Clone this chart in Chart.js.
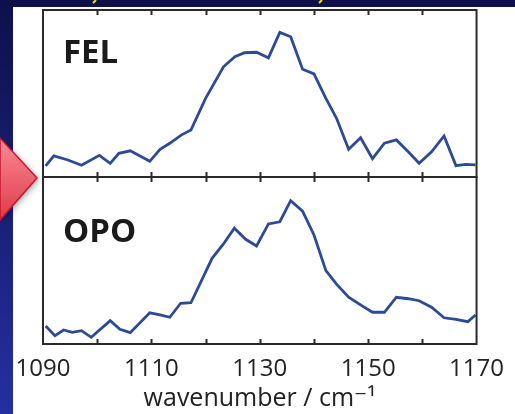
<!DOCTYPE html>
<html>
<head>
<meta charset="utf-8">
<script src="https://cdn.jsdelivr.net/npm/chart.js@4"></script>
<style>
  html, body { margin: 0; padding: 0; background: #0e1250; }
  #wrap { width: 515px; height: 414px; }
</style>
</head>
<body>
<div id="wrap"><canvas id="grafico"></canvas></div>
<script>
const felWn = [1090.5, 1092.0, 1094.6, 1097.1, 1100.4, 1102.4, 1104.0, 1106.1, 1109.7, 1111.6, 1113.4, 1115.5, 1117.3, 1120.0, 1123.3, 1125.4, 1127.2, 1129.4, 1131.6, 1133.7, 1135.7, 1137.9, 1140.0, 1142.2, 1144.2, 1146.4, 1148.6, 1150.8, 1153.0, 1155.2, 1157.4, 1159.4, 1161.7, 1164.0, 1166.2, 1168.0, 1169.8];
const felVals = [0.066, 0.126, 0.102, 0.070, 0.130, 0.082, 0.142, 0.157, 0.094, 0.166, 0.202, 0.251, 0.281, 0.471, 0.660, 0.720, 0.744, 0.747, 0.714, 0.866, 0.840, 0.645, 0.617, 0.471, 0.349, 0.166, 0.235, 0.110, 0.202, 0.222, 0.151, 0.082, 0.151, 0.246, 0.068, 0.076, 0.072];

const opoWn = [1090.5, 1092.2, 1093.8, 1095.4, 1097.1, 1098.9, 1102.4, 1104.2, 1106.1, 1109.7, 1111.6, 1113.4, 1115.4, 1117.3, 1121.2, 1123.3, 1125.3, 1127.4, 1129.4, 1131.6, 1133.7, 1135.7, 1137.9, 1140.0, 1142.2, 1144.2, 1146.4, 1148.6, 1150.8, 1153.0, 1155.2, 1157.4, 1159.4, 1161.7, 1164.0, 1166.2, 1168.4, 1169.8];
const opoVals = [0.108, 0.050, 0.084, 0.070, 0.080, 0.040, 0.140, 0.088, 0.068, 0.187, 0.174, 0.160, 0.244, 0.247, 0.513, 0.599, 0.693, 0.627, 0.587, 0.719, 0.732, 0.858, 0.796, 0.653, 0.439, 0.357, 0.280, 0.234, 0.190, 0.190, 0.280, 0.271, 0.259, 0.220, 0.157, 0.148, 0.134, 0.174];

const tickLabels = [1090, 1110, 1130, 1150, 1170];
const tickMarks = [1100, 1110, 1120, 1130, 1140, 1150, 1160];
const panelNames = ['FEL', 'OPO'];

const lineColor = '#2d4a97';
const frameColor = '#2a2a2a';

// background, frames, panel labels and the red arrow
const fondo = {
  id: 'fondo',
  beforeDraw(chart) {
    const ctx = chart.ctx;
    const g = ctx.createLinearGradient(0, 0, 0, chart.height);
    g.addColorStop(0, '#0d104a');
    g.addColorStop(1, '#2430a2');
    ctx.save();
    ctx.fillStyle = g;
    ctx.fillRect(0, 0, chart.width, chart.height);
    ctx.fillStyle = '#ffffff';
    ctx.fillRect(13, 7, chart.width - 13, chart.height - 7);
    // bits of cut-off yellow title
    ctx.strokeStyle = '#f2e000';
    ctx.lineWidth = 2;
    ctx.beginPath();
    ctx.moveTo(93, 3); ctx.lineTo(96, 0);
    ctx.moveTo(319, 3); ctx.lineTo(322, 0);
    ctx.stroke();
    ctx.restore();
  },
  afterDatasetsDraw(chart) {
    const ctx = chart.ctx;
    const x = chart.scales.x;
    ctx.save();
    ctx.strokeStyle = frameColor;
    ctx.lineWidth = 2;
    ['yFel', 'yOpo'].forEach(id => {
      const s = chart.scales[id];
      ctx.strokeRect(x.left, s.top, x.right - x.left, s.bottom - s.top);
      ctx.beginPath();
      tickMarks.forEach(v => {
        const px = Math.round(x.getPixelForValue(v)) + 0.5;
        ctx.moveTo(px, s.top); ctx.lineTo(px, s.top + 5);
        ctx.moveTo(px, s.bottom); ctx.lineTo(px, s.bottom - 5);
      });
      ctx.stroke();
    });
    ctx.restore();
  },
  afterDraw(chart) {
    const ctx = chart.ctx;
    const x = chart.scales.x;
    const fel = chart.scales.yFel, opo = chart.scales.yOpo;
    ctx.save();
    ctx.fillStyle = '#1a1a1a';
    ctx.font = 'bold 33px "Open Sans", "Liberation Sans", sans-serif';
    ctx.textBaseline = 'alphabetic';
    ctx.fillText(panelNames[0], x.left + 20, fel.top + 53);
    ctx.fillText(panelNames[1], x.left + 20, opo.top + 65);

    // red arrow on the left
    const tipY = fel.bottom + 1;
    ctx.shadowColor = 'rgba(0,0,0,0.35)';
    ctx.shadowBlur = 6;
    ctx.shadowOffsetX = 2;
    ctx.shadowOffsetY = 2;
    const rg = ctx.createLinearGradient(0, tipY - 40, 0, tipY + 42);
    rg.addColorStop(0, '#f68b94');
    rg.addColorStop(1, '#e23a4b');
    ctx.fillStyle = rg;
    ctx.beginPath();
    ctx.moveTo(0, tipY - 40);
    ctx.lineTo(37, tipY);
    ctx.lineTo(0, tipY + 42);
    ctx.closePath();
    ctx.fill();
    ctx.shadowColor = 'transparent';
    ctx.strokeStyle = '#c8162f';
    ctx.lineWidth = 1.5;
    ctx.stroke();
    ctx.restore();
  }
};

let grafico = document.getElementById('grafico').getContext('2d');

var chart = new Chart(grafico, {
  type: 'line',
  data: {
    datasets: [{
      label: 'FEL',
      data: felWn.map((w, i) => ({ x: w, y: felVals[i] })),
      yAxisID: 'yFel',
      borderColor: lineColor,
      borderWidth: 2.8,
      pointRadius: 0,
      tension: 0
    }, {
      label: 'OPO',
      data: opoWn.map((w, i) => ({ x: w, y: opoVals[i] })),
      yAxisID: 'yOpo',
      borderColor: lineColor,
      borderWidth: 2.8,
      pointRadius: 0,
      tension: 0
    }]
  },
  options: {
    responsive: true,
    maintainAspectRatio: false,
    animation: false,
    devicePixelRatio: 1,
    layout: { padding: { left: 43, right: 28, top: 10, bottom: 0 } },
    plugins: { legend: { display: false }, tooltip: { enabled: false } },
    scales: {
      x: {
        type: 'linear',
        min: 1090,
        max: 1170,
        afterBuildTicks: s => { s.ticks = tickLabels.map(v => ({ value: v })); },
        afterFit: s => { s.height = 70; },
        grid: { display: false, drawTicks: false },
        border: { display: false },
        ticks: {
          autoSkip: false,
          maxRotation: 0,
          padding: 11,
          color: '#222',
          font: { family: '"Open Sans", sans-serif', size: 24 },
          callback: v => String(v)
        },
        title: {
          display: true,
          text: 'wavenumber / cm\u207B\u00B9',
          color: '#222',
          padding: { top: 0, bottom: 0 },
          font: { family: '"Open Sans", "DejaVu Sans", sans-serif', size: 25 }
        }
      },
      yOpo: {
        type: 'linear', position: 'left', stack: 'panels', stackWeight: 1,
        min: 0, max: 1,
        afterFit: s => { s.width = 0; },
        grid: { display: false, drawTicks: false },
        border: { display: false },
        ticks: { display: false }
      },
      yFel: {
        type: 'linear', position: 'left', stack: 'panels', stackWeight: 1,
        min: 0, max: 1,
        afterFit: s => { s.width = 0; },
        grid: { display: false, drawTicks: false },
        border: { display: false },
        ticks: { display: false }
      }
    }
  },
  plugins: [fondo]
});
</script>
</body>
</html>
